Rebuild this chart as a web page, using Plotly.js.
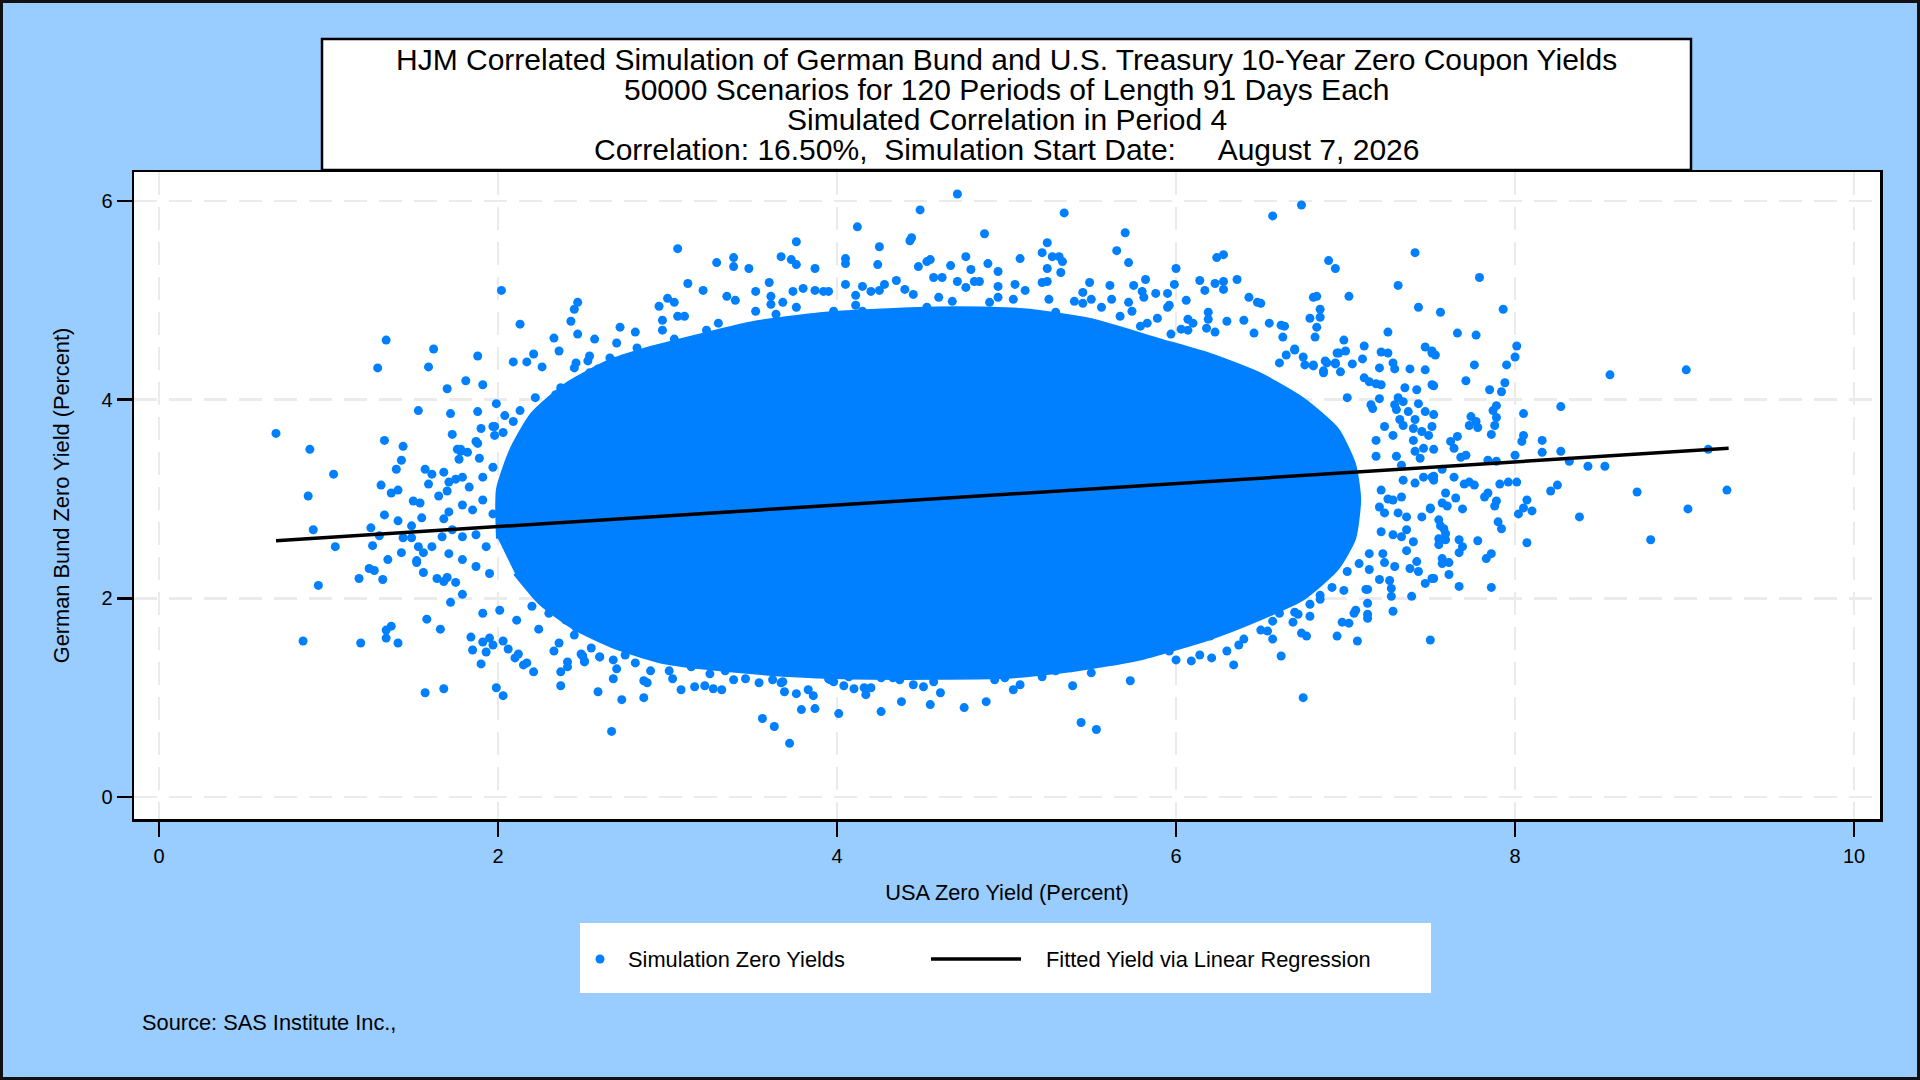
<!DOCTYPE html>
<html>
<head>
<meta charset="utf-8">
<script src="https://cdn.plot.ly/plotly-3.0.1.min.js"></script>
<style>
  html, body { margin: 0; padding: 0; background: #99CCFF; overflow: hidden; }
  #chart { width: 1920px; height: 1080px; }
</style>
</head>
<body>
<div id="chart"></div>
<script>
// ---------------- DATA ----------------
const titleLines = [
  "HJM Correlated Simulation of German Bund and U.S. Treasury 10-Year Zero Coupon Yields",
  "50000 Scenarios for 120 Periods of Length 91 Days Each",
  "Simulated Correlation in Period 4",
  "Correlation: 16.50%,\u00A0\u00A0Simulation Start Date:\u00A0\u00A0\u00A0\u00A0\u00A0August 7, 2026"
];
const xTitle = "USA Zero Yield (Percent)";
const yTitle = "German Bund Zero Yield (Percent)";
const seriesName = "Simulation Zero Yields";
const fitName = "Fitted Yield via Linear Regression";
const sourceText = "Source: SAS Institute Inc.,";
const xTicks = [0, 2, 4, 6, 8, 10];
const yTicks = [0, 2, 4, 6];

// Outline of the saturated (fully overlapping) core of the 50000-point cloud
const coreX = [2.0,2.0,2.08,2.2,2.4,2.65,2.9,3.2,3.5,3.9,4.3,4.7,5.1,5.5,5.9,6.2,6.5,6.75,6.95,7.05,7.08,7.05,6.95,6.75,6.5,6.2,5.8,5.4,5.0,4.6,4.2,3.8,3.4,3.0,2.7,2.45,2.25,2.1];
const coreY = [2.6,3.1,3.5,3.85,4.15,4.38,4.52,4.65,4.77,4.86,4.9,4.92,4.9,4.8,4.6,4.45,4.25,4.0,3.7,3.35,3.0,2.6,2.3,2.0,1.8,1.6,1.4,1.28,1.21,1.2,1.2,1.22,1.27,1.35,1.5,1.7,1.95,2.25];

// Individually visible scenario points, by region of the cloud
const leftX1 = [2.02,1.34,1.62,1.88,1.29,1.59,1.81,1.91,1.70,1.99,1.53,1.72,1.88,1.98,1.90,1.73,1.98,2.03,0.69,1.33,1.44,0.89,1.87,1.88,1.76,1.78,1.78,1.82,1.77,1.89];
const leftY1 = [5.10,4.60,4.51,4.44,4.32,4.33,4.19,4.15,4.11,3.96,3.89,3.86,3.88,3.73,3.71,3.65,3.64,3.67,3.66,3.59,3.53,3.50,3.58,3.56,3.50,3.50,3.48,3.47,3.40,3.41];
const leftX2 = [1.03,1.43,1.40,1.57,1.61,1.68,1.75,1.71,1.59,1.31,1.37,1.41,0.88,1.50,1.54,1.65,1.70,1.33,1.41,1.55,0.91,1.25,1.49,1.68,1.71,1.30,1.44,1.49,1.04,1.26];
const leftY2 = [3.25,3.39,3.30,3.30,3.25,3.27,3.20,3.17,3.15,3.14,3.06,3.09,3.03,2.98,2.96,3.03,3.08,2.84,2.78,2.81,2.69,2.71,2.73,2.80,2.87,2.63,2.61,2.61,2.52,2.53];
const leftX3 = [1.43,1.53,1.61,1.56,1.35,1.52,1.52,1.24,1.27,1.56,1.18,1.32,1.64,1.68,1.70,1.75,0.94,1.79,1.72,1.58];
const leftY3 = [2.46,2.52,2.52,2.46,2.39,2.38,2.36,2.30,2.28,2.26,2.20,2.19,2.20,2.17,2.21,2.16,2.13,2.04,1.96,1.79];
const leftX4 = [1.79,1.85,1.91,1.97,1.73,1.79,1.87,1.93,1.71,1.79,1.87,1.95,1.83,1.91,1.97,1.79,1.67,2.04,2.09,1.97,2.29,2.54,2.58];
const leftY4 = [2.94,2.89,2.99,2.85,2.69,2.62,2.64,2.52,2.45,2.39,2.32,2.25,3.12,3.22,3.32,3.22,2.62,3.84,3.78,3.73,3.95,4.10,4.15];
const lowLeftX1 = [0.85,1.19,1.37,1.34,1.34,1.41,1.66,1.57,1.68,1.99,2.03,1.84,1.91,1.95,1.97,1.85,1.93,1.90,2.03,2.06,2.12,2.10,2.17,2.15,2.21,2.37,2.37,2.41,2.41,2.33,2.36,2.59,2.67,2.50,2.51,2.60,2.55,2.45];
const lowLeftY1 = [1.57,1.55,1.72,1.68,1.60,1.55,1.69,1.05,1.09,1.10,1.02,1.61,1.56,1.60,1.53,1.48,1.46,1.34,1.57,1.49,1.44,1.40,1.35,1.33,1.26,1.12,1.26,1.36,1.31,1.47,1.55,1.06,0.66,1.42,1.36,1.41,1.50,1.63];
const lowLeftX2 = [2.20,2.30,2.40,2.50,2.60,2.64,2.01,2.11,1.91,2.24,2.46,2.56];
const lowLeftY2 = [1.92,1.85,1.78,1.88,1.78,1.65,1.88,1.78,1.85,1.69,1.71,1.65];
const bottomX1 = [2.73,2.86,2.68,2.86,2.88,3.08,3.16,3.22,3.27,3.32,3.39,3.46,3.56,3.63,3.72,3.69,3.76,3.83,3.86,3.79,3.87,4.01,4.26,4.38,4.55,4.61,4.10,4.17,4.20,4.16,4.45,4.51,3.54,3.62,3.67,4.04,3.98,3.95];
const bottomY1 = [0.98,1.00,1.19,1.17,1.15,1.08,1.11,1.12,1.09,1.08,1.18,1.19,0.79,0.71,0.54,1.06,1.04,1.08,1.02,0.88,0.89,0.84,0.86,0.96,0.93,1.05,1.09,1.03,1.10,1.10,1.13,1.11,1.15,1.18,1.15,1.12,1.16,1.19];
const bottomX2 = [2.49,2.51,2.60,2.68,2.70,2.75,2.81,2.90,3.01,3.03,3.14,3.21,3.25,3.34,3.53,3.68,3.77,3.87,3.96,4.07,4.13,4.22,4.26,4.33,4.37,4.47,4.57,4.57,4.63,4.69];
const bottomY2 = [1.44,1.37,1.41,1.38,1.29,1.43,1.35,1.27,1.27,1.19,1.31,1.34,1.24,1.27,1.31,1.16,1.32,1.26,1.18,1.21,1.26,1.25,1.20,1.20,1.18,1.32,1.16,1.28,1.30,1.30];
const bottomX3 = [4.75,4.88,5.44,5.53,5.39,5.73,5.04,5.08,4.93,4.99,4.86,4.89,5.21,5.22,5.29,5.50,5.38,5.43,4.71,6.75,6.62,6.34,6.00,6.09,6.14,6.21,6.30,5.96,6.03,6.05,5.72,5.77,5.48,5.43,5.38,6.37,6.40,6.57,6.50,6.54];
const bottomY3 = [0.90,0.96,0.75,0.68,1.12,1.17,1.08,1.13,1.18,1.20,1.25,1.26,1.21,1.27,1.27,1.25,1.30,1.33,1.30,1.00,1.42,1.33,1.38,1.37,1.43,1.40,1.47,1.47,1.56,1.60,1.42,1.48,1.42,1.43,1.39,1.53,1.59,1.59,1.68,1.67];
const bottomX4 = [4.95,5.09,5.15,5.22,5.32,5.56,5.62,4.75,4.81];
const bottomY4 = [1.43,1.40,1.37,1.43,1.46,1.46,1.53,1.41,1.49];
const lowRightX = [6.20,6.23,6.95,7.07,7.50,6.74,6.77,6.79,6.69,6.72,6.98,7.02,7.05,7.06,7.13,7.13,7.13,7.13,7.28,7.27,7.39,6.92,6.99,7.47,7.51,6.57,6.61,6.67,6.70,6.79,6.85,6.39,6.39,6.45,6.50,6.39];
const lowRightY = [1.62,1.70,1.62,1.57,1.58,1.65,1.62,1.82,1.76,1.84,1.76,1.75,1.85,1.88,1.80,1.84,1.95,2.09,1.87,2.02,2.02,2.11,2.08,2.15,2.20,1.77,1.85,1.96,1.86,1.94,1.99,1.76,1.85,1.96,1.89,2.02];
const rightX1 = [9.02,8.38,8.80,8.07,8.02,8.05,8.07,8.10,7.90,7.92,7.78,7.86,7.83,7.86,7.67,7.61,7.52,7.57,7.61,7.67,7.69,7.67,7.55,7.59,7.56,7.69,7.60,7.57,7.50,7.88,7.89];
const rightY1 = [2.90,2.82,2.59,2.56,2.85,2.91,2.99,2.88,2.77,2.70,2.58,2.45,2.40,2.11,2.12,2.24,2.20,2.35,2.36,2.46,2.52,2.59,2.54,2.65,2.73,2.90,2.93,2.96,2.90,2.93,2.98];
const rightX2 = [7.79,7.56,7.93,7.66,7.77,8.01,8.00,7.76,7.95,7.51,7.53,7.52,7.71,7.94,7.92,7.85,8.56,9.01,8.27,8.05,7.52,7.51,7.89,7.87,7.89,7.88,7.74,7.77,7.73,7.78,7.86,8.05,8.04,8.16,8.16,8.27,9.14,8.00,7.66,7.62];
const rightY2 = [5.23,4.88,4.91,4.67,4.65,4.54,4.43,4.35,4.35,4.49,4.45,4.14,4.19,4.17,4.08,4.10,4.25,4.30,3.93,3.86,3.85,3.73,3.94,3.89,3.82,3.74,3.83,3.78,3.74,3.72,3.65,3.64,3.58,3.59,3.47,3.48,3.50,3.44,3.63,3.58];
const rightX3 = [7.64,7.68,7.71,7.84,7.89,8.32,8.43,8.53,7.57,7.64,7.52,7.52,7.70,7.73,7.76,7.91,7.96,8.01,8.25,8.21,8.72,9.25,7.59,7.65,7.82,7.84];
const rightY3 = [3.51,3.42,3.44,3.39,3.38,3.38,3.33,3.33,3.30,3.22,3.23,3.19,3.15,3.17,3.14,3.15,3.17,3.17,3.14,3.08,3.07,3.09,3.06,3.01,3.02,3.06];
const edgeRightX1 = [7.47,7.51,7.21,7.25,7.28,7.29,7.47,7.35,7.42,7.51,7.34,7.29,7.30,7.37,7.43,7.47,7.41,7.32,7.34,7.40,7.45,7.49,7.40,7.46,7.52,7.41,7.44,7.30,7.33,7.18,7.28,7.23,7.34,7.41,7.46,7.51];
const edgeRightY1 = [4.53,4.47,4.48,4.47,4.37,4.31,4.30,4.12,4.10,4.15,3.98,3.95,3.90,3.88,3.96,3.88,3.80,3.80,3.74,3.71,3.68,3.64,3.59,3.51,3.50,3.48,3.41,3.43,3.34,3.43,3.64,3.73,3.19,3.16,3.22,3.22];
const edgeRightX2 = [7.21,7.25,7.28,7.20,7.33,7.23,7.31,7.36,7.45,7.50,7.55,7.58,7.55,7.21,7.28,7.33,7.36,7.40,7.14,7.22,7.23,7.29,7.36,7.42,7.38,7.43,7.57,7.59,7.20,7.26,7.27,7.12,6.85,7.01,7.08,7.14];
const edgeRightY2 = [3.09,3.00,2.99,2.92,3.02,2.86,2.86,2.82,2.82,2.91,2.79,2.70,2.60,2.67,2.64,2.62,2.69,2.57,2.45,2.45,2.36,2.32,2.48,2.37,2.30,2.27,2.40,2.59,2.19,2.18,2.10,2.09,2.03,2.27,2.35,2.29];
const edgeRightX3 = [6.99,7.11,6.96,7.04,7.10,6.88,6.94,6.87,6.97,6.81,6.75,6.70,6.65,6.61,7.14,7.18,7.20,7.16,7.18];
const edgeRightY3 = [4.60,4.54,4.47,4.36,4.41,4.39,4.36,4.27,4.28,4.34,4.43,4.51,4.45,4.37,4.18,4.16,4.01,3.91,3.59];
const edgeRightX4 = [6.95,7.00,6.89,6.94,6.87,6.76,6.81,7.11,7.01,7.21,7.15,7.31];
const edgeRightY4 = [4.47,4.49,4.37,4.37,4.29,4.35,4.35,4.22,4.02,4.15,3.95,4.02];
const topX1 = [5.34,4.87,6.57,6.74,5.70,5.65,5.72,5.24,5.21,5.27,5.31,5.33,5.24,5.32,5.08,4.76,4.89,4.95,4.79,6.24,6.28,6.00,6.90,6.94,7.41,7.31,7.02,7.43,6.14,6.23,6.28,6.28,6.36,6.17];
const topY1 = [5.88,5.67,5.85,5.96,5.68,5.50,5.38,5.58,5.48,5.44,5.44,5.39,5.32,5.28,5.42,5.44,5.37,5.29,5.31,5.43,5.46,5.32,5.40,5.32,5.48,5.15,5.04,4.93,5.20,5.17,5.19,5.11,5.21,5.10];
const topX2 = [5.82,5.75,5.61,5.49,5.99,5.88,5.95,5.80,5.81,6.06,6.43,6.48,6.50,6.81,6.83,6.85,6.79,6.85,6.83,6.82,7.25,6.40,6.30,6.46,6.55,6.62,6.64,6.63,6.70,7.20,7.38];
const topY2 = [5.21,5.15,5.15,5.18,5.16,5.07,5.07,5.09,5.03,5.00,5.03,4.98,4.97,5.03,5.04,4.91,4.82,4.83,4.73,4.63,4.68,4.80,4.79,4.67,4.77,4.75,4.74,4.63,4.50,4.32,4.31];
const topX3 = [4.71,4.76,4.81,4.84,4.95,5.05,5.11,5.21,5.24,4.95,5.04,5.25,4.90,5.40,5.45,5.50,5.62,5.72,5.45,5.29,5.56,5.67,5.74,5.79,5.83,5.89,5.95,5.96,6.07,6.10,6.19,6.19,6.18,6.23,6.03,5.97,6.07];
const topY3 = [5.19,5.13,5.19,5.19,5.14,5.16,5.10,5.18,5.19,5.03,5.01,5.01,4.98,4.99,5.08,5.01,5.01,4.98,4.97,4.88,4.93,4.84,4.89,4.74,4.77,4.82,4.93,4.95,4.81,4.77,4.88,4.81,4.72,4.68,4.71,4.66,4.70];
const topX4 = [3.06,4.12,4.49,4.71,3.76,4.43,4.44,4.25,4.24,4.05,4.05,3.29,3.39,3.39,3.48,3.67,3.73,3.76,3.87,4.48,4.53,4.55,4.67,3.12,3.21,3.35,3.40,3.52];
const topY4 = [5.52,5.74,5.91,6.07,5.59,5.60,5.63,5.54,5.36,5.42,5.37,5.38,5.43,5.34,5.32,5.44,5.41,5.36,5.32,5.34,5.39,5.41,5.35,5.17,5.10,5.04,5.00,5.09];
const topLeftX1 = [2.13,2.47,2.45,2.43,2.33,2.47,2.36,2.57,2.70,2.72,2.81,2.95,3.00,3.04,2.97,2.97,3.06,3.10,3.04,2.21,2.17,2.09,2.26,2.46,2.45,2.53,2.54,2.54,2.59,2.37,2.39,2.34,2.22,2.13,2.44,2.47];
const topLeftY1 = [4.76,4.98,4.91,4.79,4.62,4.66,4.49,4.61,4.57,4.73,4.68,4.94,5.02,4.98,4.80,4.70,4.84,4.84,4.61,4.46,4.38,4.38,4.33,4.37,4.32,4.39,4.44,4.27,4.31,4.12,4.06,4.05,4.02,3.89,3.96,3.88];
const topMidX1 = [3.23,3.30,3.52,3.60,3.61,3.61,3.68,3.74,3.80,3.87,3.92,3.95,4.05,4.11,4.11,4.15,4.20,4.25,4.28,4.35,4.40,4.45,4.53,4.57,4.62,4.68,4.60];
const topMidY1 = [4.70,4.77,4.89,5.18,5.04,4.96,4.98,5.09,5.12,5.10,5.09,5.09,5.16,5.05,4.95,5.14,5.09,5.10,5.16,5.20,5.11,5.06,4.93,5.23,5.23,4.99,5.03];
const topMidX2 = [3.03,3.11,2.91,2.82,2.66,2.68,2.74,2.80,2.99,3.27,3.35,3.43,3.47,3.58,3.64,3.76,3.86,3.98,4.04,4.15,4.17,4.25,4.37,4.51,4.43];
const topMidY2 = [4.44,4.32,4.44,4.52,4.42,4.39,4.41,4.37,4.36,4.56,4.62,4.72,4.56,4.72,4.86,4.93,4.82,4.89,4.66,4.89,4.72,4.79,4.86,4.89,4.76];

// Fitted regression line end points
const fitX = [0.69, 9.26];
const fitY = [2.58, 3.51];

// ---------------- assemble ----------------
const simX = [].concat(leftX1,leftX2,leftX3,leftX4,lowLeftX1,lowLeftX2,bottomX1,bottomX2,bottomX3,bottomX4,lowRightX,rightX1,rightX2,rightX3,edgeRightX1,edgeRightX2,edgeRightX3,edgeRightX4,topX1,topX2,topX3,topX4,topLeftX1,topMidX1,topMidX2);
const simY = [].concat(leftY1,leftY2,leftY3,leftY4,lowLeftY1,lowLeftY2,bottomY1,bottomY2,bottomY3,bottomY4,lowRightY,rightY1,rightY2,rightY3,edgeRightY1,edgeRightY2,edgeRightY3,edgeRightY4,topY1,topY2,topY3,topY4,topLeftY1,topMidY1,topMidY2);

const BLUE = '#0080FF';
const FONT = 'Liberation Sans, Arial, Helvetica, sans-serif';

// plot area in page pixels
const L = 134, R = 40, T = 172, B = 261;
const W = 1920 - L - R, H = 1080 - T - B;
const px = v => (v - L) / W;           // page x pixel -> paper
const py = v => (1080 - B - v) / H;    // page y pixel -> paper

const traces = [
  { type: 'scatter', mode: 'lines', x: coreX, y: coreY, fill: 'toself',
    fillcolor: BLUE, line: { color: BLUE, width: 4, shape: 'spline', smoothing: 0.6 },
    hoverinfo: 'skip', showlegend: false },
  { type: 'scatter', mode: 'markers', name: seriesName, x: simX, y: simY,
    marker: { color: BLUE, size: 9, line: { width: 0 } }, showlegend: false },
  { type: 'scatter', mode: 'lines', name: fitName, x: fitX, y: fitY,
    line: { color: 'black', width: 3.5 }, showlegend: false }
];

const titleY = [59, 89.5, 119, 149.5];
const annotations = titleLines.map((t, i) => ({
  text: t, xref: 'paper', yref: 'paper', x: px(1006.5), y: py(titleY[i]),
  xanchor: 'center', yanchor: 'middle', showarrow: false,
  font: { family: FONT, size: 30, color: 'black' }
}));
annotations.push(
  { text: seriesName, xref: 'paper', yref: 'paper', x: px(626), y: py(959),
    xanchor: 'left', yanchor: 'middle', showarrow: false,
    font: { family: FONT, size: 21.8, color: 'black' } },
  { text: fitName, xref: 'paper', yref: 'paper', x: px(1044), y: py(959),
    xanchor: 'left', yanchor: 'middle', showarrow: false,
    font: { family: FONT, size: 21.8, color: 'black' } },
  { text: sourceText, xref: 'paper', yref: 'paper', x: px(140), y: py(1022.5),
    xanchor: 'left', yanchor: 'middle', showarrow: false,
    font: { family: FONT, size: 21.8, color: 'black' } }
);

const shapes = [
  // outer page frame
  { type: 'rect', xref: 'paper', yref: 'paper', x0: px(1.5), x1: px(1918.5), y0: py(1078.5), y1: py(1.5),
    line: { color: '#111111', width: 3 }, fillcolor: 'rgba(0,0,0,0)', layer: 'above' },
  // title box
  { type: 'rect', xref: 'paper', yref: 'paper', x0: px(322), x1: px(1691), y0: py(170), y1: py(39),
    line: { color: 'black', width: 2.5 }, fillcolor: 'white', layer: 'below' },
  // legend box
  { type: 'rect', xref: 'paper', yref: 'paper', x0: px(580), x1: px(1431), y0: py(993), y1: py(923),
    line: { width: 0 }, fillcolor: 'white', layer: 'below' },
  // legend marker symbol
  { type: 'circle', xref: 'paper', yref: 'paper', x0: px(595.5), x1: px(604.5), y0: py(963.5), y1: py(954.5),
    line: { width: 0 }, fillcolor: BLUE, layer: 'above' },
  // legend line symbol
  { type: 'line', xref: 'paper', yref: 'paper', x0: px(931), x1: px(1021), y0: py(959), y1: py(959),
    line: { color: 'black', width: 3.5 }, layer: 'above' }
];

const axisCommon = {
  ticks: 'outside', ticklen: 15, tickwidth: 2.5, tickcolor: 'black',
  showline: true, linewidth: 2.5, linecolor: 'black', mirror: true,
  showgrid: true, gridcolor: '#EBEBEB', gridwidth: 2.5, griddash: '23px,12px',
  zeroline: false, tickfont: { family: FONT, size: 20, color: 'black' }
};

const layout = {
  width: 1920, height: 1080,
  paper_bgcolor: '#99CCFF', plot_bgcolor: 'white',
  margin: { l: L, r: R, t: T, b: B, pad: 0 },
  showlegend: false,
  xaxis: Object.assign({}, axisCommon, {
    range: [-0.1475, 10.153], tickvals: xTicks, ticktext: xTicks.map(String),
    ticklabelstandoff: 2,
    title: { text: xTitle, font: { family: FONT, size: 21.8, color: 'black' }, standoff: 19 }
  }),
  yaxis: Object.assign({}, axisCommon, {
    range: [-0.2215, 6.292], tickvals: yTicks, ticktext: yTicks.map(String),
    title: { text: yTitle, font: { family: FONT, size: 21.8, color: 'black' }, standoff: 26 }
  }),
  annotations: annotations,
  shapes: shapes
};

Plotly.newPlot('chart', traces, layout, { displayModeBar: false, staticPlot: true });
</script>
</body>
</html>
